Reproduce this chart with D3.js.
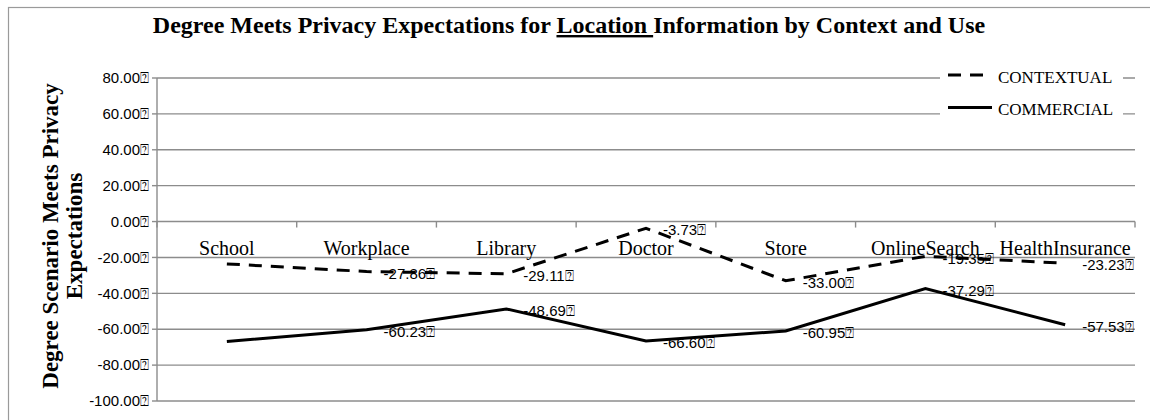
<!DOCTYPE html>
<html lang="en">
<head>
<meta charset="UTF-8">
<title>Location Privacy</title>
<style>
body { margin: 0; background: #fff; }
.grid line { stroke: #8c8c8c; stroke-width: 1.4px; }
.tick-label { font: 15px "Liberation Sans", Arial, sans-serif; fill: #000; }
.cat-label { font: 20px "Liberation Serif", "Times New Roman", serif; fill: #000; }
.val-label { font: 15px "Liberation Sans", Arial, sans-serif; fill: #000; }
.title { font: bold 24px "Liberation Serif", "Times New Roman", serif; }
.ytitle { font: bold 23px "Liberation Serif", "Times New Roman", serif; }
.legend text { font: 17px "Liberation Serif", "Times New Roman", serif; }
</style>
</head>
<body>
<script src="https://cdnjs.cloudflare.com/ajax/libs/d3/7.8.5/d3.min.js"></script>
<script>
// data
var categories = ["School", "Workplace", "Library", "Doctor", "Store", "OnlineSearch", "HealthInsurance"];
var contextual = [-23.6, -27.86, -29.11, -3.73, -33.00, -19.35, -23.23];
var commercial = [-66.8, -60.23, -48.69, -66.60, -60.95, -37.29, -57.53];
// school labels are not shown in the original
var contextualShown = [false, true, true, true, true, true, true];
var commercialShown = [false, true, true, true, true, true, true];
var yTicks = [80, 60, 40, 20, 0, -20, -40, -60, -80, -100];
var seriesNames = ["CONTEXTUAL", "COMMERCIAL"];

var width = 1150, height = 420;
var plotLeft = 157, plotRight = 1135, plotTop = 78, plotBottom = 401;
var box = "\u2370"; // missing glyph after numbers

var svg = d3.select("body").append("svg")
    .attr("width", width)
    .attr("height", height);

// chart border
svg.append("rect")
    .attr("x", 8.5).attr("y", 7.5)
    .attr("width", 1160).attr("height", 430)
    .attr("fill", "none")
    .attr("stroke", "#9a9a9a")
    .attr("stroke-width", 1.2);

var x = d3.scaleBand().domain(categories).range([plotLeft, plotRight]);
var y = d3.scaleLinear().domain([-100, 80]).range([plotBottom, plotTop]);
var cx = function(c) { return x(c) + x.bandwidth() / 2; };

// gridlines
svg.append("g").attr("class", "grid")
  .selectAll("line")
  .data(yTicks)
  .enter().append("line")
    .attr("x1", plotLeft).attr("x2", plotRight)
    .attr("y1", function(d) { return y(d); })
    .attr("y2", function(d) { return y(d); });

// y axis line and ticks
var yaxis = svg.append("g").attr("class", "grid");
yaxis.append("line")
    .attr("x1", plotLeft).attr("x2", plotLeft)
    .attr("y1", plotTop).attr("y2", plotBottom);
yaxis.selectAll(".yt")
  .data(yTicks)
  .enter().append("line")
    .attr("x1", plotLeft - 5).attr("x2", plotLeft)
    .attr("y1", function(d) { return y(d); })
    .attr("y2", function(d) { return y(d); });

svg.append("g")
  .selectAll("text")
  .data(yTicks)
  .enter().append("text")
    .attr("class", "tick-label")
    .attr("x", plotLeft - 8)
    .attr("y", function(d) { return y(d); })
    .attr("dy", "0.35em")
    .attr("text-anchor", "end")
    .text(function(d) { return d.toFixed(2) + box; });

// category ticks on the zero line
var xt = svg.append("g").attr("class", "grid");
xt.selectAll("line")
  .data(categories.concat(["end"]))
  .enter().append("line")
    .attr("x1", function(d, i) { return plotLeft + i * x.bandwidth(); })
    .attr("x2", function(d, i) { return plotLeft + i * x.bandwidth(); })
    .attr("y1", y(0)).attr("y2", y(0) + 6);

svg.append("g")
  .selectAll("text")
  .data(categories)
  .enter().append("text")
    .attr("class", "cat-label")
    .attr("x", cx)
    .attr("y", y(0) + 33)
    .attr("text-anchor", "middle")
    .text(function(d) { return d; });

// value labels
function labels(vals, shown) {
  svg.append("g")
    .selectAll("text")
    .data(categories.filter(function(c, i) { return shown[i]; }))
    .enter().append("text")
      .attr("class", "val-label")
      .attr("x", function(c) { return cx(c) + 17; })
      .attr("y", function(c) { return y(vals[categories.indexOf(c)]) + 2; })
      .attr("dy", "0.35em")
      .text(function(c) { return vals[categories.indexOf(c)].toFixed(2) + box; });
}
labels(contextual, contextualShown);
labels(commercial, commercialShown);

// lines
var line = d3.line()
    .x(function(d, i) { return cx(categories[i]); })
    .y(function(d) { return y(d); });

svg.append("path")
    .datum(contextual)
    .attr("d", line)
    .attr("fill", "none")
    .attr("stroke", "#000")
    .attr("stroke-width", 3)
    .attr("stroke-dasharray", "13,9");

svg.append("path")
    .datum(commercial)
    .attr("d", line)
    .attr("fill", "none")
    .attr("stroke", "#000")
    .attr("stroke-width", 3);

// legend
var legend = svg.append("g").attr("class", "legend");
legend.append("rect")
    .attr("x", 940).attr("y", 62)
    .attr("width", 183).attr("height", 66)
    .attr("fill", "#fff");
seriesNames.forEach(function(name, i) {
  var ly = 75 + i * 32.5;
  legend.append("line")
      .attr("x1", 948).attr("x2", i === 0 ? 985 : 992)
      .attr("y1", ly).attr("y2", ly)
      .attr("stroke", "#000")
      .attr("stroke-width", 3)
      .attr("stroke-dasharray", i === 0 ? "13,9" : null);
  legend.append("text")
      .attr("x", 998)
      .attr("y", ly + 7.5)
      .text(name);
});

// title
var title = svg.append("text")
    .attr("class", "title")
    .attr("x", 569)
    .attr("y", 33)
    .attr("text-anchor", "middle");
title.append("tspan").text("Degree Meets Privacy Expectations for ");
title.append("tspan").attr("text-decoration", "underline").text("Location ");
title.append("tspan").text("Information by Context and Use");

// y axis title
var yt = svg.append("text")
    .attr("class", "ytitle")
    .attr("transform", "translate(58,236)rotate(-90)")
    .attr("text-anchor", "middle");
yt.append("tspan").attr("x", 0).attr("y", 0).text("Degree Scenario Meets Privacy");
yt.append("tspan").attr("x", 0).attr("y", 24).text("Expectations");
</script>
</body>
</html>
